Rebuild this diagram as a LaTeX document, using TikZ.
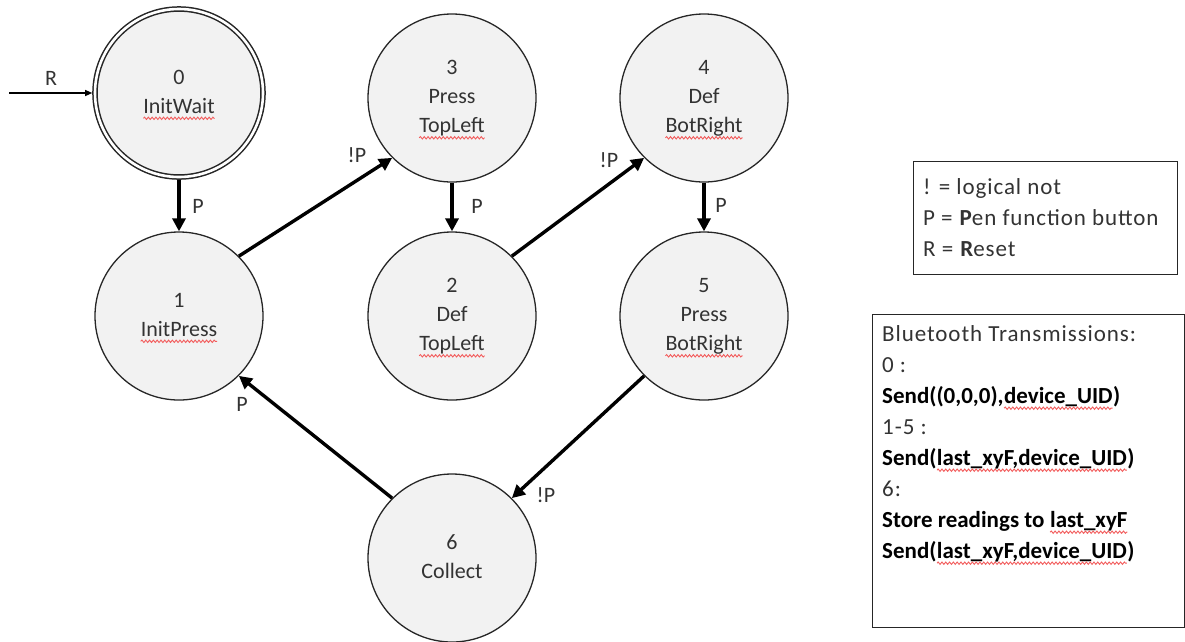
\documentclass[tikz,border=0pt]{standalone}
\usepackage{fontspec}
\setmainfont{Carlito}
\usetikzlibrary{arrows.meta,decorations.pathmorphing}
\definecolor{statefill}{HTML}{F2F2F2}
\definecolor{ink}{HTML}{333333}
\definecolor{rim}{HTML}{262626}
\definecolor{spellred}{HTML}{F25C5C}
\tikzset{
  spellwave/.style={draw=spellred,line width=0.9pt,decorate,
    decoration={snake,amplitude=1.2pt,segment length=3.8pt}},
}
% word with a red wavy underline
\newcommand\misspelt[1]{\tikz[baseline=(sw.base)]{%
  \node[shape=rectangle,draw=none,fill=none,minimum size=0pt,inner sep=0pt,
        outer sep=0pt,align=none,anchor=base,font=] (sw) {#1};%
  \path[spellwave] ([yshift=-5pt]sw.base west) -- ([yshift=-5pt]sw.base east);}}
% plain key text, set a little wider
\newcommand\keyplain[1]{{\addfontfeature{LetterSpace=4}#1}}
% centred lines of a state, each line one full baseline high
\newcommand\statelines[1]{\begin{tabular}{@{}c@{}}#1\end{tabular}}

\begin{document}
\begin{tikzpicture}[x=1pt,y=-1pt,
  state/.style={circle,draw=rim,line width=1.3pt,fill=statefill,minimum size=168pt,
    inner sep=0pt,text=ink,font=\fontsize{22}{29}\selectfont},
  initstate/.style={state,double=white,double distance=2.6pt,line width=1.5pt,outer sep=2.8pt},
  trans/.style={line width=3.4pt,draw=black,-{Triangle[length=13pt,width=13pt]}},
  reset/.style={line width=1.2pt,draw=black,-{Triangle[length=7pt,width=6pt]}},
  edgelbl/.style={inner sep=0pt,text=ink,font=\fontsize{22}{26}\selectfont},
  keybox/.style={draw=rim,line width=1.2pt,inner sep=0pt,anchor=north west},
  keytext/.style={inner sep=0pt,align=left,text=ink,font=\fontsize{23}{31}\selectfont},
]
\useasboundingbox (0,0) rectangle (1185,641);

% states
\node[initstate] (s0) at (179,93) {\statelines{0\\\misspelt{InitWait}}};
\node[state] (s1) at (179,316) {\statelines{1\\\misspelt{InitPress}}};
\node[state] (s3) at (452,98) {\statelines{3\\Press\\\misspelt{TopLeft}}};
\node[state] (s2) at (452,316) {\statelines{2\\Def\\\misspelt{TopLeft}}};
\node[state] (s4) at (704,98) {\statelines{4\\Def\\\misspelt{BotRight}}};
\node[state] (s5) at (704,316) {\statelines{5\\Press\\\misspelt{BotRight}}};
\node[state] (s6) at (452,558) {\statelines{6\\Collect}};

% reset entry
\coordinate (rin) at (9,93);
\draw[reset] (rin) -- (s0.west);

% transitions
\draw[trans] (s0) -- (s1);
\draw[trans] (s1.45) -- (s3.225);
\draw[trans] (s3) -- (s2);
\draw[trans] (s2.45) -- (s4.225);
\draw[trans] (s4) -- (s5);
\draw[trans] (s5.225) -- (s6.45);
\draw[trans] (s6.135) -- (s1.-45);

% transition labels
\node[edgelbl] (lR)  at (51,78)   {R};
\node[edgelbl] (l01) at (198,206) {P};
\node[edgelbl] (l13) at (357,155) {!P};
\node[edgelbl] (l32) at (477,206) {P};
\node[edgelbl] (l24) at (609,160) {!P};
\node[edgelbl] (l45) at (721,205) {P};
\node[edgelbl] (l56) at (546,495) {!P};
\node[edgelbl] (l61) at (242,404) {P};

% key
\node[keybox,minimum width=264pt,minimum height=113pt] (key) at (913,161) {};
\node[keytext,anchor=west] (keytxt) at (923,218)
  {\keyplain{! = logical not}\\
   \keyplain{P = }\textbf{P}\keyplain{en function button}\\
   \keyplain{R = }\textbf{R}\keyplain{eset}};

% transmissions
\node[keybox,minimum width=312pt,minimum height=313pt] (bt) at (872,314) {};
\node[keytext,anchor=north west] (bttxt) at (882,325)
  {\keyplain{Bluetooth Transmissions:}\\
   \keyplain{0 :}\\
   \textcolor{black}{\bfseries Send((0,0,0),\misspelt{device\_UID})}\\
   \keyplain{1-5 :}\\
   \textcolor{black}{\bfseries Send(\misspelt{last\_xyF,device\_UID})}\\
   \keyplain{6:}\\
   \textcolor{black}{\bfseries Store readings to \misspelt{last\_xyF}}\\
   \textcolor{black}{\bfseries Send(\misspelt{last\_xyF,device\_UID})}};
\end{tikzpicture}
\end{document}
